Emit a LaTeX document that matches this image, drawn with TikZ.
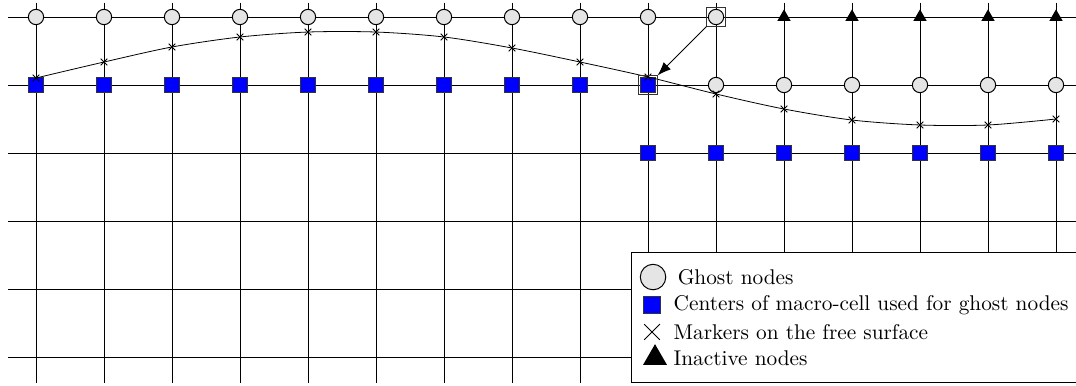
\documentclass[tikz,border=0pt]{standalone}
\usetikzlibrary{shapes.geometric,shapes.misc,arrows.meta}
\begin{document}
\begin{tikzpicture}
[x=1.2cm,y=1.2cm,line width=0.5pt,
  ghostdecorate/.style={shape=circle,draw,fill=gray!20,inner sep=0pt,minimum size=0.27cm},%
  centerdecorate/.style={shape=rectangle,draw=black!80,fill=blue,inner sep=0pt,minimum size=0.27cm},%
  inactivedecorate/.style={shape=regular polygon,regular polygon sides=3,fill=black,inner sep=0pt,minimum size=0.27cm},%
  markerdecorate/.style={shape=cross out,draw,inner sep=0pt,minimum size=0.1cm},%
  framedecorate/.style={shape=rectangle,draw=black!80,inner sep=0pt,minimum size=0.32cm},%
  legenddecorate/.style={anchor=west,inner sep=0pt,font=\fontsize{10.7}{13}\selectfont},%
  linedecorate/.style={-{Latex[length=2.4mm,width=1.8mm]}}]
\useasboundingbox (-0.5294,0.25) rectangle (15.294,-5.4118);
%% mesh
\foreach \j in {0,...,5} {
  \draw (-0.412,-\j) -- (15.4,-\j);
}
\foreach \i in {0,...,15} {
  \draw (\i,0.206) -- (\i,-5.382);
}
%% ghost nodes
\foreach \i in {0,...,10} {
  \node (g\i-0) at (\i,0) [ghostdecorate] {};
}
\foreach \i in {10,...,15} {
  \node (g\i-1) at (\i,-1) [ghostdecorate] {};
}
%% inactive nodes
\foreach \i in {11,...,15} {
  \node (t\i) at (\i,0) [inactivedecorate] {};
}
%% centers of macro-cells
\foreach \i in {0,...,9} {
  \node (c\i-1) at (\i,-1) [centerdecorate] {};
}
\foreach \i in {9,...,15} {
  \node (c\i-2) at (\i,-2) [centerdecorate] {};
}
%% markers on the free surface
\foreach \i/\y in {0/-0.897, 1/-0.662, 2/-0.441, 3/-0.294, 4/-0.221, 5/-0.221,
  6/-0.294, 7/-0.456, 8/-0.662, 9/-0.882, 10/-1.132, 11/-1.353, 12/-1.515,
  13/-1.588, 14/-1.588, 15/-1.5} {
  \node (m\i) at (\i,\y) [markerdecorate] {};
}
\draw[line width=0.4pt] plot[smooth] coordinates {(m0) (m1) (m2) (m3) (m4) (m5) (m6) (m7)
  (m8) (m9) (m10) (m11) (m12) (m13) (m14) (m15)};
%% ghost node and its macro-cell
\node (fghost) at (g10-0) [framedecorate] {};
\node (fcenter) at (c9-1) [framedecorate] {};
\draw[linedecorate] (fghost.south west) -- (fcenter.north east);
%% legend
\draw[fill=white] (8.75,-3.456) rectangle (15.4,-5.382);
\node (lghost) at (9.074,-3.824) [ghostdecorate,minimum size=0.45cm] {};
\node (lcenter) at (9.059,-4.235) [centerdecorate,minimum size=0.29cm] {};
\node (lmarker) at (9.059,-4.632) [markerdecorate,minimum size=0.26cm] {};
\node (linactive) at (9.103,-5.015) [inactivedecorate,minimum size=0.49cm] {};
\node (tghost) at (9.43,-3.824) [legenddecorate] {Ghost nodes};
\node (tcenter) at (9.37,-4.235) [legenddecorate] {Centers of macro-cell used for ghost nodes};
\node (tmarker) at (9.37,-4.632) [legenddecorate] {Markers on the free surface};
\node (tinactive) at (9.37,-5.015) [legenddecorate] {Inactive nodes};
\end{tikzpicture}
\end{document}
